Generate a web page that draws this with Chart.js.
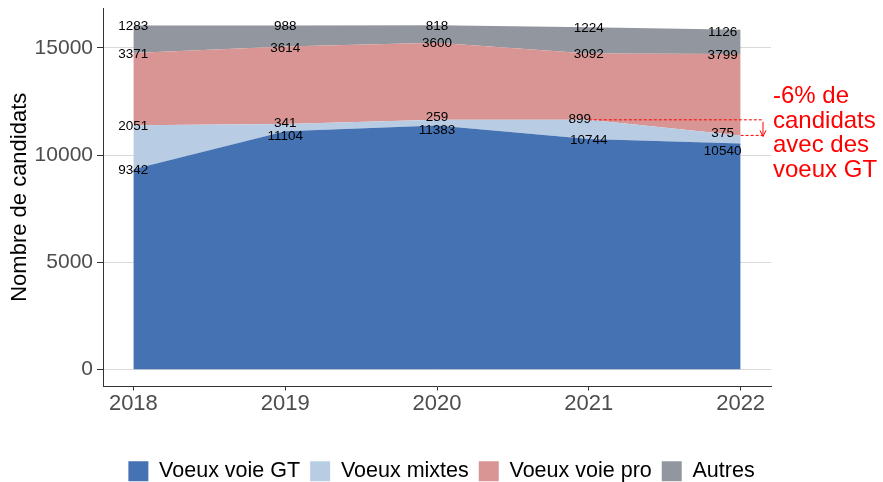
<!DOCTYPE html>
<html>
<head>
    <title>Nombre de candidats</title>
    <script src="https://cdn.jsdelivr.net/npm/chart.js"></script>
    <style>
        body { margin: 0; padding: 0; background: #ffffff; }
        .chart-container { width: 883px; height: 482px; }
    </style>
</head>
<body>
    <div class="chart-container">
        <canvas id="voeuxChart"></canvas>
    </div>

    <script>
        // données
        const years = [2018, 2019, 2020, 2021, 2022];
        const voeuxGT = [9342, 11104, 11383, 10744, 10540];
        const voeuxMixtes = [2051, 341, 259, 899, 375];
        const voeuxPro = [3371, 3614, 3600, 3092, 3799];
        const autres = [1283, 988, 818, 1224, 1126];
        const yTicks = [0, 5000, 10000, 15000];

        const seriesNames = ['Voeux voie GT', 'Voeux mixtes', 'Voeux voie pro', 'Autres'];
        const seriesValues = [voeuxGT, voeuxMixtes, voeuxPro, autres];
        const seriesColors = ['#4472b3', '#b8cce4', '#d99594', '#92969f'];

        const FONT = "'Liberation Sans', Arial, sans-serif";

        // petits décalages des étiquettes (comme ggrepel)
        const nudges = [
            [[0, 0], [0, 4], [0, 4], [0, 0], [-18, 7]],
            [[0, 0], [0, -2], [0, -4], [-9, -2], [-18, -3]],
            [[0, 0], [0, 1], [0, 0], [0, 0], [-18, 0]],
            [[0, 0], [0, 0], [0, 0], [0, 0], [-18, 1]]
        ];

        const valueLabels = {
            id: 'valueLabels',
            afterDatasetsDraw(chart) {
                const ctx = chart.ctx;
                const xs = chart.scales.x, ys = chart.scales.y;
                ctx.save();
                ctx.font = '13.5px ' + FONT;
                ctx.fillStyle = '#000000';
                ctx.textAlign = 'center';
                ctx.textBaseline = 'middle';
                years.forEach((yr, i) => {
                    let cum = 0;
                    seriesValues.forEach((vals, s) => {
                        cum += vals[i];
                        const n = nudges[s][i];
                        ctx.fillText(String(vals[i]),
                            xs.getPixelForValue(yr) + n[0],
                            ys.getPixelForValue(cum) + 1 + n[1]);
                    });
                });
                ctx.restore();
            }
        };

        // annotation rouge : -6% de voeux GT entre 2021 et 2022
        const annotation = {
            id: 'annotation',
            afterDraw(chart) {
                const ctx = chart.ctx;
                const xs = chart.scales.x, ys = chart.scales.y;
                const area = chart.chartArea;
                const y1 = ys.getPixelForValue(voeuxGT[3] + voeuxMixtes[3]);
                const y2 = ys.getPixelForValue(voeuxGT[4] + voeuxMixtes[4]);
                const xEnd = area.right - 9;
                ctx.save();
                ctx.strokeStyle = '#ff0000';
                ctx.lineWidth = 1;
                ctx.setLineDash([3, 2]);
                ctx.beginPath();
                ctx.moveTo(xs.getPixelForValue(years[3]), y1);
                ctx.lineTo(xEnd, y1);
                ctx.moveTo(xs.getPixelForValue(years[4]), y2);
                ctx.lineTo(xEnd, y2);
                ctx.stroke();
                ctx.setLineDash([]);
                const xa = xEnd + 1;
                ctx.beginPath();
                ctx.moveTo(xa, y1 + 2);
                ctx.lineTo(xa, y2 + 1);
                ctx.moveTo(xa - 3, y2 - 5);
                ctx.lineTo(xa, y2 + 1);
                ctx.lineTo(xa + 3, y2 - 5);
                ctx.stroke();

                ctx.fillStyle = '#ff0000';
                ctx.font = '24px ' + FONT;
                ctx.textAlign = 'left';
                ctx.textBaseline = 'alphabetic';
                const lines = ['-6% de', 'candidats', 'avec des', 'voeux GT'];
                lines.forEach((t, k) => {
                    ctx.fillText(t, area.right + 2, area.top + 95 + k * 24.5);
                });
                ctx.restore();
            }
        };

        const datasets = seriesNames.map((name, s) => ({
            label: name,
            data: years.map((yr, i) => ({ x: yr, y: seriesValues[s][i] })),
            backgroundColor: seriesColors[s],
            borderColor: seriesColors[s],
            borderWidth: 0,
            pointRadius: 0,
            pointHoverRadius: 0,
            tension: 0,
            fill: s === 0 ? 'origin' : '-1'
        }));

        const ctx = document.getElementById('voeuxChart').getContext('2d');
        const chart = new Chart(ctx, {
            type: 'line',
            data: { datasets: datasets },
            options: {
                responsive: true,
                maintainAspectRatio: false,
                animation: false,
                layout: { padding: { top: 8, left: 0, right: 0, bottom: -10 } },
                scales: {
                    x: {
                        type: 'linear',
                        min: 2017.8,
                        max: 2022.2,
                        afterBuildTicks: (s) => { s.ticks = years.map(v => ({ value: v })); },
                        afterFit: (s) => { s.height = 64; s.paddingLeft = 0; s.paddingRight = 0; },
                        ticks: {
                            color: '#4d4d4d',
                            font: { family: FONT, size: 22 },
                            padding: 0,
                            callback: (v) => String(v)
                        },
                        grid: {
                            drawOnChartArea: false,
                            drawTicks: true,
                            tickLength: 4,
                            tickColor: '#333333'
                        },
                        border: { display: true, color: '#333333', width: 1 }
                    },
                    y: {
                        stacked: true,
                        min: -800,
                        max: 16860,
                        afterBuildTicks: (s) => { s.ticks = yTicks.map(v => ({ value: v })); },
                        afterFit: (s) => { s.width = 103; s.paddingTop = 0; s.paddingBottom = 0; },
                        ticks: {
                            color: '#4d4d4d',
                            font: { family: FONT, size: 21 },
                            padding: 4,
                            callback: (v) => String(v)
                        },
                        title: {
                            display: true,
                            text: 'Nombre de candidats',
                            color: '#000000',
                            font: { family: FONT, size: 22 },
                            padding: { top: 7, bottom: 0 }
                        },
                        grid: {
                            color: '#d9d9d9',
                            lineWidth: 1,
                            drawTicks: true,
                            tickLength: 6,
                            tickColor: '#333333'
                        },
                        border: { display: true, color: '#333333', width: 1 }
                    },
                    yRight: {
                        position: 'right',
                        display: true,
                        grid: { display: false },
                        ticks: { display: false },
                        border: { display: false },
                        afterFit: (s) => { s.width = 112; s.paddingTop = 0; s.paddingBottom = 0; }
                    }
                },
                plugins: {
                    legend: {
                        position: 'bottom',
                        labels: {
                            boxWidth: 20,
                            boxHeight: 20,
                            padding: 10,
                            color: '#000000',
                            font: { family: FONT, size: 21.5 }
                        }
                    },
                    tooltip: { enabled: false }
                }
            },
            plugins: [valueLabels, annotation]
        });
    </script>
</body>
</html>
